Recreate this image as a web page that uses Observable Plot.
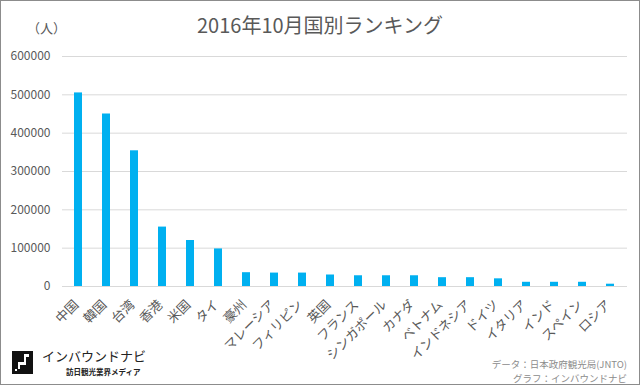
<!DOCTYPE html>
<html><head><meta charset="utf-8">
<script src="https://cdn.jsdelivr.net/npm/d3@7"></script>
<script src="https://cdn.jsdelivr.net/npm/@observablehq/plot@0.6"></script>
<style>
html,body{margin:0;padding:0;background:#fff;}
#wrap{position:relative;width:640px;height:386px;font-family:"Noto Sans CJK JP","Noto Sans",sans-serif;overflow:hidden;}
#frame{position:absolute;left:0;top:0;width:638px;height:383px;border:1px solid #8c8c8c;pointer-events:none;}
.t{position:absolute;white-space:nowrap;}
</style></head>
<body>
<div id="wrap">
  <div id="chart" style="position:absolute;left:0;top:0;"></div>
  <div class="t" style="left:0;width:640px;top:11px;text-align:center;font-size:20px;line-height:28px;color:#595959;">2016年10月国別ランキング</div>
  <div class="t" style="left:27px;top:18px;font-size:13px;color:#595959;">（人）</div>
  <svg class="t" style="left:12px;top:351px;" width="21" height="23" viewBox="0 0 21 23">
    <rect width="21" height="23" fill="#111"/>
    <rect x="12" y="3" width="5" height="3" fill="#fff"/>
    <rect x="12" y="6" width="2" height="8" fill="#fff"/>
    <rect x="6" y="11" width="8" height="3" fill="#fff"/>
    <rect x="6" y="14" width="2" height="4" fill="#fff"/>
    <rect x="3" y="18" width="2" height="2" fill="#fff"/>
  </svg>
  <div class="t" style="left:42px;top:347px;font-size:13px;line-height:18px;color:#222;">インバウンドナビ</div>
  <div class="t" style="left:66px;top:367px;font-size:7.5px;line-height:10px;color:#222;font-weight:bold;">訪日観光業界メディア</div>
  <div class="t" style="right:13px;top:359px;font-size:9.5px;line-height:10px;color:#8c8c8c;">データ：日本政府観光局(JNTO)</div>
  <div class="t" style="right:13px;top:373px;font-size:9.5px;line-height:10px;color:#8c8c8c;">グラフ：インバウンドナビ</div>
  <div id="frame"></div>
</div>
<script>
const categories = ["中国","韓国","台湾","香港","米国","タイ","豪州","マレーシア","フィリピン","英国","フランス","シンガポール","カナダ","ベトナム","インドネシア","ドイツ","イタリア","インド","スペイン","ロシア"];
const values = [505000,450000,354000,155000,120000,98000,36000,35000,35000,30000,28000,28000,28000,23000,23000,20000,11000,11000,11000,6000];
const yTicks = [0,100000,200000,300000,400000,500000,600000];

const data = categories.map((c,i)=>({country:c, value:values[i]}));

const chart = Plot.plot({
  width: 640,
  height: 386,
  marginLeft: 62,
  marginRight: 13,
  marginTop: 56,
  marginBottom: 100,
  style: {fontFamily: '"Noto Sans CJK JP","Noto Sans",sans-serif', background: "transparent"},
  x: {domain: categories, paddingInner: 0.7, paddingOuter: 0.35, label: null},
  y: {domain: [0, 600000], label: null},
  marks: [
    Plot.gridY(yTicks, {stroke: "#d9d9d9", strokeOpacity: 1, strokeWidth: 1}),
    Plot.axisY(yTicks, {tickSize: 0, tickPadding: 12, tickFormat: d => String(d), fontSize: 12, fill: "#595959", label: null}),
    Plot.barY(data, {x: "country", y: "value", fill: "#00b0f0"}),
    Plot.axisX({tickSize: 0, tickRotate: -45, tickPadding: 4, fontSize: 13, fill: "#595959", label: null, dx: -2, dy: 12})
  ]
});
document.getElementById("chart").appendChild(chart);
</script>
</body></html>
